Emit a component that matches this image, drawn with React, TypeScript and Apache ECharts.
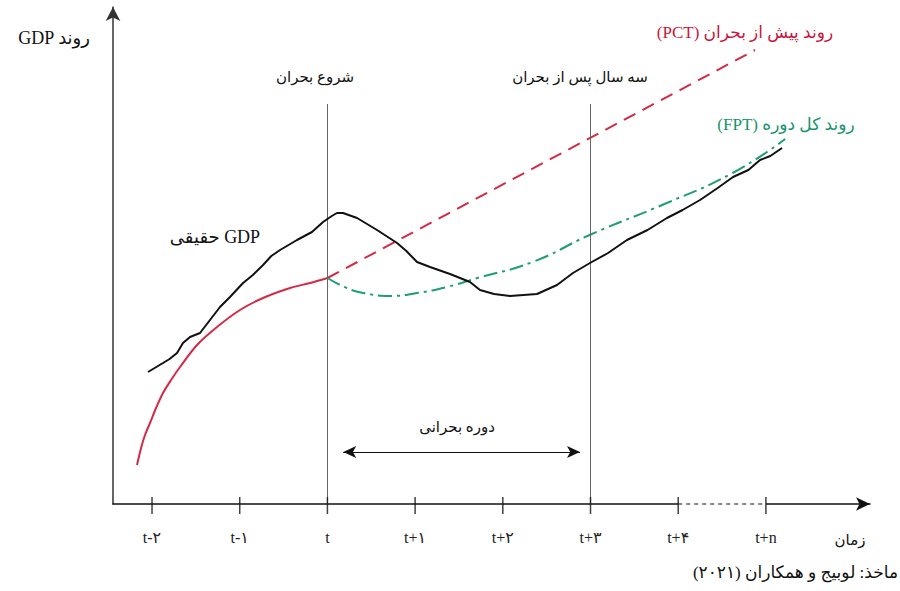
import React, { useEffect, useRef } from "react";
import * as echarts from "echarts";

// ---- data (x: periods from t-2, y: GDP level in arbitrary units) ----
const tickPositions = [0, 1, 2, 3, 4, 5, 6, 7];
const tickLabels = ["t-۲", "t-۱", "t", "t+۱", "t+۲", "t+۳", "t+۴", "t+n"];

const preCrisisTrend: number[][] = [
  [-0.171, 3.9], [-0.125, 5.6], [-0.08, 6.9], [-0.023, 8.1], [0.046, 9.6], [0.125, 11.1],
  [0.217, 12.4], [0.319, 13.7], [0.513, 15.9], [0.741, 17.7], [1.003, 19.4], [1.266, 20.6],
  [1.574, 21.6], [1.802, 22.1], [2.0, 22.6],
];
const pctTrend: number[][] = [[2.0, 22.6], [6.876, 45.4]];
const fptTrend: number[][] = [
  [2.0, 22.6], [2.22, 21.6], [2.41, 21.1], [2.71, 20.8], [3.02, 21.1], [3.36, 21.7],
  [3.71, 22.6], [4.34, 24.2], [4.99, 26.9], [5.87, 30.1], [6.62, 33.1], [7.22, 36.5],
];
const realGdp: number[][] = [
  [-0.046, 13.2], [0.125, 14.1], [0.2, 14.5], [0.285, 15.1], [0.353, 16.1], [0.433, 16.7], [0.547, 17.1],
  [0.661, 18.4], [0.775, 19.7], [0.889, 20.7], [1.038, 22.1], [1.15, 22.9], [1.266, 23.9], [1.36, 24.8], [1.46, 25.4],
  [1.653, 26.4], [1.824, 27.2], [1.95, 28.2], [2.05, 28.8], [2.109, 29.1], [2.178, 29.1], [2.338, 28.6],
  [2.566, 27.4], [2.794, 26.1], [2.9, 25.3], [3.022, 24.2], [3.17, 23.7], [3.398, 23.0], [3.626, 22.2],
  [3.74, 21.4], [3.9, 21.0], [4.082, 20.8], [4.39, 21.0], [4.618, 21.9], [4.8, 23.1], [4.994, 24.1], [5.2, 25.1], [5.416, 26.4],
  [5.65, 27.4], [5.872, 28.6], [6.05, 29.4], [6.249, 30.4], [6.45, 31.6], [6.625, 32.7], [6.8, 33.4], [6.933, 34.4], [7.05, 34.8], [7.184, 35.6],
];
const crisisMarkers = [2, 5];
const markerTop = 40;
const crisisPeriod = [2.18, 4.88];
const crisisArrowLevel = 5.2;
const gapSegment = [6, 7];

const X_MIN = -0.445;
const X_MAX = 8.187;
const Y_MAX = 49.7;

const RED = "#d42a45";
const GREEN = "#1f9e74";
const SERIF = "Liberation Serif, DejaVu Serif, DejaVu Sans, serif";

export default function App() {
  const ref = useRef<HTMLDivElement>(null);
  useEffect(() => {
    document.body.style.margin = "0";
    if (!ref.current) return;
    const chart = echarts.init(ref.current, null, { renderer: "svg" });
    const txt = (text: string, x: number, y: number, opts: any = {}) => ({
      type: "text",
      x,
      y,
      z: 100,
      style: {
        text,
        fill: opts.fill || "#111",
        fontSize: opts.fontSize || 16,
        fontFamily: SERIF,
        align: opts.align || "center",
        verticalAlign: "middle",
      },
    });
    chart.setOption({
      animation: false,
      backgroundColor: "#fff",
      grid: { left: 113, right: 30, top: 7, bottom: 87 },
      xAxis: {
        type: "value",
        min: X_MIN,
        max: X_MAX,
        axisLine: {
          show: true,
          onZero: false,
          symbol: ["none", "arrow"],
          symbolSize: [10, 14],
          lineStyle: { color: "#111", width: 1.5 },
        },
        axisTick: { show: false },
        splitLine: { show: false },
        axisLabel: {
          customValues: tickPositions,
          formatter: (v: number) => tickLabels[tickPositions.indexOf(Math.round(v))] ?? "",
          margin: 25,
          fontSize: 16,
          color: "#222",
          fontFamily: SERIF,
        },
      },
      yAxis: {
        type: "value",
        min: 0,
        max: Y_MAX,
        axisLine: {
          show: true,
          onZero: false,
          symbol: ["none", "arrow"],
          symbolSize: [11, 14],
          lineStyle: { color: "#333", width: 1.5 },
        },
        axisTick: { show: false },
        axisLabel: { show: false },
        splitLine: { show: false },
      },
      series: [
        {
          type: "line",
          name: "markers",
          data: [],
          markLine: {
            silent: true,
            symbol: ["none", "none"],
            label: { show: false },
            lineStyle: { color: "#666", width: 1, type: "solid" },
            data: crisisMarkers.map((x) => [{ coord: [x, 0] }, { coord: [x, markerTop] }]),
          },
        },
        {
          type: "line",
          name: "crisisPeriod",
          data: [],
          markLine: {
            silent: true,
            symbol: ["arrow", "arrow"],
            symbolSize: [9, 13],
            label: { show: false },
            lineStyle: { color: "#111", width: 1.2, type: "solid" },
            data: [[{ coord: [crisisPeriod[0], crisisArrowLevel] }, { coord: [crisisPeriod[1], crisisArrowLevel] }]],
          },
        },
        {
          type: "line",
          name: "PCT",
          data: pctTrend,
          showSymbol: false,
          lineStyle: { color: RED, width: 2, type: [13, 8] },
          z: 3,
        },
        {
          type: "line",
          name: "preCrisis",
          data: preCrisisTrend,
          smooth: 0.3,
          showSymbol: false,
          lineStyle: { color: RED, width: 2 },
          z: 4,
        },
        {
          type: "line",
          name: "FPT",
          data: fptTrend,
          smooth: true,
          showSymbol: false,
          lineStyle: { color: GREEN, width: 2, type: [14, 5, 3, 5] },
          z: 4,
        },
        {
          type: "line",
          name: "realGDP",
          data: realGdp,
          showSymbol: false,
          lineStyle: { color: "#111", width: 2 },
          z: 5,
        },
        {
          type: "line",
          name: "gapCover",
          data: gapSegment.map((x) => [x, 0]),
          showSymbol: false,
          clip: false,
          lineStyle: { color: "#fff", width: 4 },
          z: 6,
        },
        {
          type: "line",
          name: "gapDash",
          data: gapSegment.map((x) => [x, 0]),
          showSymbol: false,
          clip: false,
          lineStyle: { color: "#111", width: 1.2, type: [4, 4] },
          z: 7,
        },
        {
          type: "scatter",
          name: "ticks",
          data: tickPositions.map((x) => [x, 0]),
          symbol: "rect",
          symbolSize: [1.5, 17],
          symbolOffset: [0, 1.5],
          itemStyle: { color: "#111" },
          clip: false,
          silent: true,
          z: 8,
        },
      ],
      graphic: [
        txt("GDP روند", 90, 38, { align: "right", fontSize: 18 }),
        txt("شروع بحران", 315, 77, { fontSize: 15 }),
        txt("سه سال پس از بحران", 580, 77, { fontSize: 15 }),
        txt("(PCT) روند پیش از بحران", 745, 32, { fill: "#c8163c", fontSize: 17 }),
        txt("(FPT) روند کل دوره", 786, 124, { fill: "#17936b", fontSize: 17 }),
        txt("حقیقی GDP", 215, 237, { fontSize: 18 }),
        txt("دوره بحرانی", 457, 427, { fontSize: 15 }),
        txt("زمان", 850, 540, { fontSize: 15 }),
        txt("ماخذ: لوبیج و همکاران (۲۰۲۱)\u200F", 898, 572, { align: "right", fontSize: 17 }),
      ],
    });
    return () => chart.dispose();
  }, []);
  return <div ref={ref} style={{ width: 900, height: 591 }} />;
}
